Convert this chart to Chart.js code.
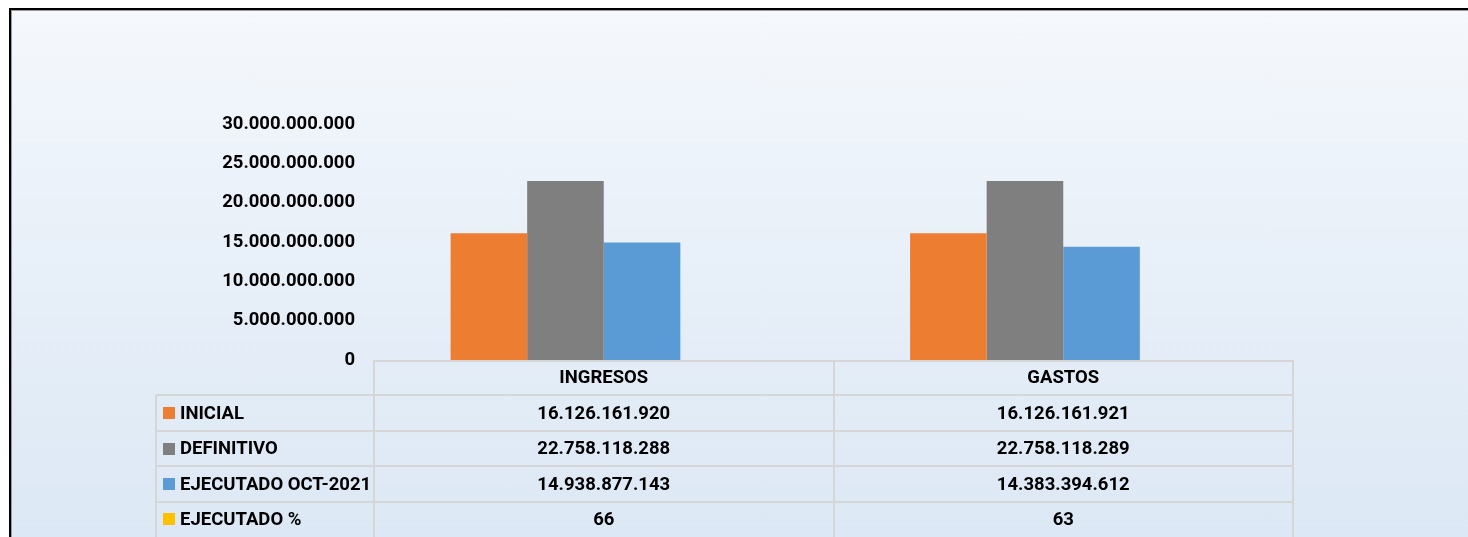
<!DOCTYPE html>
<html>
<head>
<meta charset="utf-8">
<script src="https://cdn.jsdelivr.net/npm/chart.js@4/dist/chart.umd.min.js"></script>
<style>
  html, body { margin: 0; padding: 0; background: #ffffff; width: 1468px; height: 537px; overflow: hidden; }
  #frame {
    position: absolute; left: 9px; top: 8px; width: 1500px; height: 600px;
    border-left: 2px solid #000; border-top: 2px solid #000;
    box-shadow: inset 1px 1px 0 #9a9a9a;
    background: linear-gradient(to bottom, #f5f8fc 0px, #eaf1f9 200px, #dce8f5 529px);
  }
  #c { position: absolute; left: 0; top: 0; }
</style>
</head>
<body>
<div id="frame"></div>
<canvas id="c" width="1468" height="537"></canvas>
<script>
const categories = ['INGRESOS', 'GASTOS'];
const seriesNames = ['INICIAL', 'DEFINITIVO', 'EJECUTADO OCT-2021', 'EJECUTADO %'];
const inicial = [16126161920, 16126161921];
const definitivo = [22758118288, 22758118289];
const ejecutado = [14938877143, 14383394612];
const ejecutadoPct = [66, 63];
const seriesColors = ['#ED7D31', '#7F7F7F', '#5B9BD5', '#FFC000'];
const yMax = 30000000000;
const yStep = 5000000000;

const FONT = 'Roboto, "Liberation Sans", sans-serif';
const FSIZE = 18.5;

function fmt(v) {
  return String(Math.round(v)).replace(/\B(?=(\d{3})+(?!\d))/g, '.');
}

const seriesValues = [inicial, definitivo, ejecutado, ejecutadoPct];

const tablePlugin = {
  id: 'dataTable',
  afterDraw(chart) {
    const ctx = chart.ctx;
    const area = chart.chartArea;
    const n = categories.length;
    const colW = (area.right - area.left) / n;
    const top = area.bottom;
    const rowH = 35.4;
    const labelLeft = 156;
    ctx.save();
    ctx.strokeStyle = '#d6d6d6';
    ctx.lineWidth = 2;
    // header row
    ctx.beginPath();
    ctx.moveTo(area.left, Math.round(top) + 1);
    ctx.lineTo(area.right + 1, Math.round(top) + 1);
    for (let r = 1; r <= seriesNames.length; r++) {
      const y = Math.round(top + r * rowH);
      ctx.moveTo(labelLeft, y);
      ctx.lineTo(area.right + 1, y);
    }
    for (let c = 0; c <= n; c++) {
      const x = Math.round(area.left + c * colW);
      ctx.moveTo(x, Math.round(top));
      ctx.lineTo(x, chart.height + 5);
    }
    ctx.moveTo(labelLeft, Math.round(top + rowH));
    ctx.lineTo(labelLeft, chart.height + 5);
    ctx.stroke();

    ctx.fillStyle = '#000';
    ctx.font = 'bold ' + FSIZE + 'px ' + FONT;
    ctx.textBaseline = 'middle';
    ctx.textAlign = 'center';
    for (let c = 0; c < n; c++) {
      ctx.fillText(categories[c], area.left + (c + 0.5) * colW, top + rowH / 2 + 1);
    }
    for (let r = 0; r < seriesNames.length; r++) {
      const cy = top + (r + 1.5) * rowH + 1;
      ctx.fillStyle = seriesColors[r];
      ctx.fillRect(163, Math.round(cy - 7), 12, 12);
      ctx.fillStyle = '#000';
      ctx.textAlign = 'left';
      ctx.fillText(seriesNames[r], 180, cy);
      ctx.textAlign = 'center';
      for (let c = 0; c < n; c++) {
        ctx.fillText(fmt(seriesValues[r][c]), area.left + (c + 0.5) * colW, cy);
      }
    }
    ctx.restore();
  }
};

new Chart(document.getElementById('c'), {
  type: 'bar',
  data: {
    labels: categories,
    datasets: seriesNames.map((name, i) => ({
      label: name,
      data: seriesValues[i],
      backgroundColor: seriesColors[i],
      borderWidth: 0,
      categoryPercentage: 4 / 6,
      barPercentage: 1
    }))
  },
  options: {
    responsive: false,
    animation: false,
    devicePixelRatio: 1,
    layout: { padding: { left: 0, top: 124, right: 175, bottom: 177 } },
    plugins: { legend: { display: false }, tooltip: { enabled: false } },
    scales: {
      x: { display: false },
      y: {
        min: 0, max: yMax,
        grid: { display: false, drawTicks: false },
        border: { display: false },
        afterFit(scale) { scale.width = 374; },
        ticks: {
          stepSize: yStep,
          padding: 19,
          color: '#000',
          font: { family: FONT, size: FSIZE, weight: 'bold' },
          callback: (v) => fmt(v)
        }
      }
    }
  },
  plugins: [tablePlugin]
});
</script>
</body>
</html>
